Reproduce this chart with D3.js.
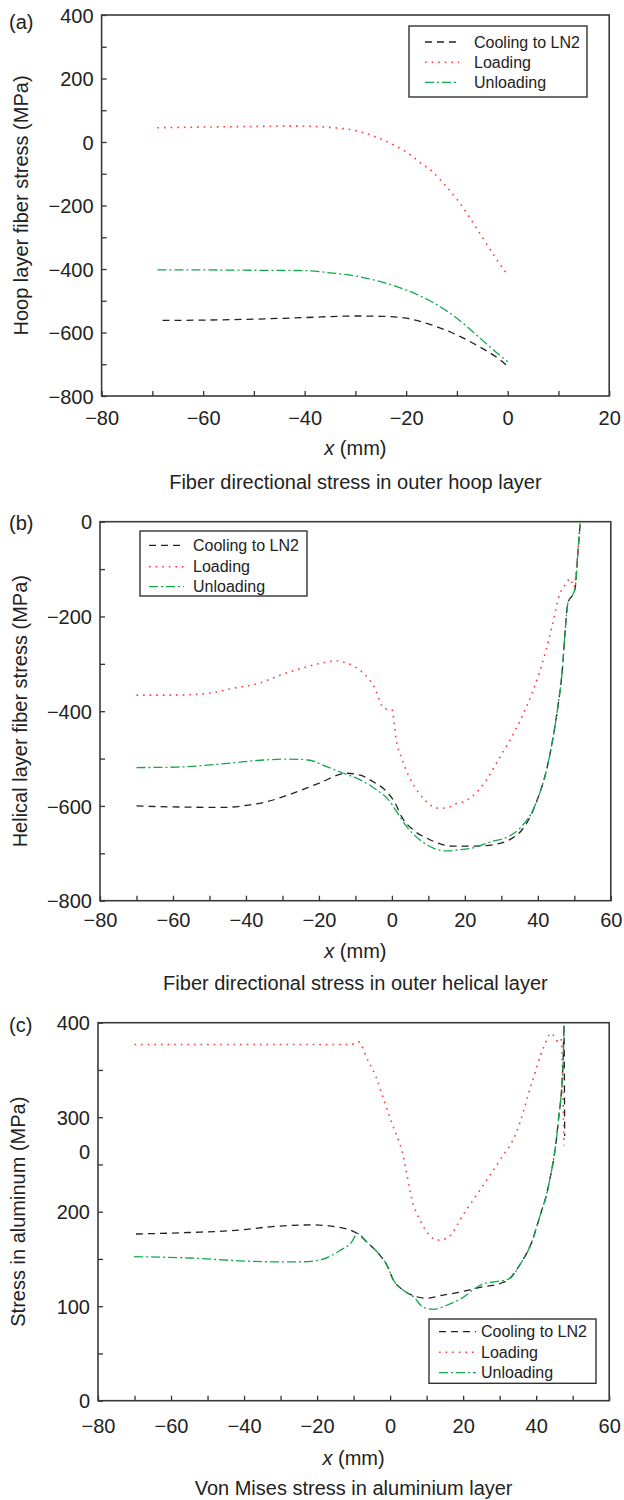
<!DOCTYPE html>
<html>
<head>
<meta charset="utf-8">
<script src="https://cdn.jsdelivr.net/npm/d3@7"></script>
<style>
  body { margin: 0; background: #fff; }
  svg text { font-family: "Liberation Sans", Arial, Helvetica, sans-serif; fill: #222; }
</style>
</head>
<body>
<svg id="fig" width="624" height="1500"></svg>
<script>

// ---------- data ----------
// (a) hoop layer
var aCoolX = [-68, -60, -50, -40, -30, -25, -20, -15, -10, -5, -2, 0];
var aCoolY = [-562, -561, -558, -553, -548, -549, -555, -576, -608, -650, -680, -706];
var aLoadX = [-69, -60, -50, -43, -38, -35, -30, -26, -23, -20, -17, -15, -12, -9.6, -7.4, -5.4, -2.5, 0];
var aLoadY = [45, 47, 49, 50, 49, 46, 36, 16, -5, -31, -68, -91, -142, -189, -240, -290, -362, -420];
var aUnlX = [-69, -60, -50, -40, -35, -30, -25, -20, -15, -10, -5, -2, 0];
var aUnlY = [-403, -403, -404, -405, -412, -422, -440, -466, -503, -555, -624, -666, -692];

// (b) helical layer
var bCoolX = [-70, -60, -46, -40, -34.3, -27, -19.7, -12.4, -8.7, -5.1, -1.4, 0.9, 2.7, 5.9, 9.6, 13.2, 16.9, 22, 27.5, 33, 36.3, 39.5, 42.8, 45.5, 46.5, 48.3, 49.5, 50.2, 51, 51.6];
var bCoolY = [-600, -602, -603, -599, -591, -573, -551, -531, -535, -549, -570, -594, -623, -651, -668, -680, -685, -685, -682, -668, -644, -594, -510, -390, -330, -170, -155, -141, -64, -3];
var bLoadX = [-70, -60, -50, -43.8, -36, -30.7, -24.1, -19, -15.3, -11, -8.2, -4.9, -2.2, 0, 1.3, 2.7, 4.5, 6.8, 8.6, 10.9, 13.2, 15.5, 17.3, 19.8, 24.2, 29.7, 35.2, 38.4, 42.3, 43.9, 46.1, 47.8, 48.8, 49.9, 51, 51.6];
var bLoadY = [-366, -366, -362, -352, -340, -324, -308, -298, -294, -303, -317, -348, -394, -397, -466, -499, -535, -566, -584, -600, -605, -603, -596, -591, -563, -496, -419, -362, -270, -221, -151, -130, -120, -138, -60, -3];
var bUnlX = [-70, -59, -45, -35, -28.5, -23, -17.9, -13.3, -8.7, -4.2, -0.5, 1.3, 4.1, 7.7, 11.4, 15, 17.8, 21.9, 27.4, 31.8, 35.1, 39.5, 42.8, 45.5, 46.5, 48.3, 49.5, 50.2, 51, 51.6];
var bUnlY = [-519, -518, -510, -503, -501, -503, -517, -531, -545, -566, -591, -612, -644, -672, -689, -695, -693, -689, -675, -665, -647, -594, -510, -390, -330, -170, -155, -141, -64, -3];

// (c) aluminium
var cCoolX = [-69.6, -55, -41.1, -33, -21.4, -14.8, -9, -6.4, -2.8, -0.9, 0.9, 3.6, 7.3, 10, 14.6, 19.2, 24.6, 30.1, 32.8, 35.5, 38.8, 41, 43.3, 46, 47.4, 47.6, 47.8];
var cCoolY = [176.4, 178, 180.6, 184, 186, 184, 177, 168, 154, 143.6, 127.7, 117, 110, 108.4, 111.8, 115, 120, 124, 129.5, 143.6, 168, 195, 226, 293.5, 360.5, 397.6, 280];
var cLoadX = [-70, -60, -40, -20, -10.5, -8.8, -6.1, -3.9, -1.7, 0.5, 3.2, 6.4, 8.2, 10.9, 12.8, 15.5, 20.2, 24.6, 30.1, 34.5, 38.8, 42.1, 44.1, 46, 46.8, 47.6];
var cLoadY = [377, 377, 377, 377, 377, 380, 360.5, 343, 318, 293.5, 265, 207, 191, 174.6, 170, 171.8, 198, 223, 254.7, 283, 336, 374.6, 388.8, 380, 383, 270];
var cUnlX = [-70.1, -55, -41.1, -33, -24, -19.2, -13.7, -10.5, -9, -6.4, -2.8, -0.9, 0.9, 3.6, 6.4, 9.1, 11.8, 15.5, 19.1, 25.7, 29, 32.8, 35.5, 38.8, 41, 43.3, 46, 47.4, 47.6];
var cUnlY = [152.4, 151, 148, 147, 147, 149, 159, 168, 177, 168, 154, 143.6, 127.7, 117, 110, 98.8, 96.7, 101, 107.3, 124, 126, 129.5, 143.6, 168, 195, 226, 293.5, 360.5, 397.6];

var seriesNames = ["Cooling to LN2", "Loading", "Unloading"];
var seriesColors = ["#222222", "#ff3b3b", "#12a84a"];
var seriesDash = ["7,5", "1.6,5", "9,3,2,3"];

// ---------- helpers ----------
var svg = d3.select("#fig");

function zip(xs, ys) {
  return xs.map(function(x, i) { return [x, ys[i]]; });
}

function drawPanel(p) {
  var x = d3.scaleLinear().domain(p.xDomain).range([p.left, p.right]);
  var y = d3.scaleLinear().domain(p.yDomain).range([p.bottom, p.top]);
  var g = svg.append("g");

  var xTicks = d3.range(p.xDomain[0], p.xDomain[1] + 1, 10);
  var yTicks = d3.range(p.yDomain[0], p.yDomain[1] + 1, p.yMinor);

  g.append("g")
    .attr("transform", "translate(0," + p.bottom + ")")
    .call(d3.axisBottom(x).tickValues(xTicks).tickSizeInner(-5).tickSizeOuter(0).tickPadding(p.xPad)
      .tickFormat(function(d) { return d % 20 === 0 ? d3.format("")(d) : ""; }))
    .call(function(a) {
      a.select(".domain").remove();
      a.selectAll("line").attr("stroke", "#333").attr("stroke-width", 1.3);
      a.selectAll("text").attr("font-size", 20).attr("fill", "#222");
    });

  g.append("g")
    .attr("transform", "translate(" + p.left + ",0)")
    .call(d3.axisLeft(y).tickValues(yTicks).tickSizeInner(-5).tickSizeOuter(0).tickPadding(8)
      .tickFormat(function(d) { return d % p.yMajor === 0 ? d3.format("")(d) : ""; }))
    .call(function(a) {
      a.select(".domain").remove();
      a.selectAll("line").attr("stroke", "#333").attr("stroke-width", 1.3);
      a.selectAll("text").attr("font-size", 20).attr("fill", "#222").attr("dy", "0.36em");
    });

  // stray labels printed in the original
  (p.extraLabels || []).forEach(function(l) {
    g.append("text")
      .attr("x", p.left - 8).attr("y", y(l.v)).attr("dy", "0.36em")
      .attr("text-anchor", "end").attr("font-size", 20).text(l.t);
  });

  // frame
  g.append("rect")
    .attr("x", p.left).attr("y", p.top)
    .attr("width", p.right - p.left).attr("height", p.bottom - p.top)
    .attr("fill", "none").attr("stroke", "#3a3a3a").attr("stroke-width", 1.6);

  var line = d3.line()
    .x(function(d) { return x(d[0]); })
    .y(function(d) { return y(d[1]); })
    .curve(d3.curveMonotoneX);

  p.series.forEach(function(s, i) {
    g.append("path")
      .datum(s)
      .attr("d", line)
      .attr("fill", "none")
      .attr("stroke", seriesColors[i])
      .attr("stroke-width", i === 1 ? 1.6 : 1.3)
      .attr("stroke-dasharray", seriesDash[i]);
  });

  // legend
  var L = p.legend;
  g.append("rect")
    .attr("x", L.x0).attr("y", L.y0)
    .attr("width", L.x1 - L.x0).attr("height", L.y1 - L.y0)
    .attr("fill", "#fff").attr("stroke", "#333").attr("stroke-width", 1.4);
  seriesNames.forEach(function(name, i) {
    var ry = L.rows[i];
    g.append("line")
      .attr("x1", L.s0).attr("x2", L.s1).attr("y1", ry).attr("y2", ry)
      .attr("stroke", seriesColors[i])
      .attr("stroke-width", i === 1 ? 1.6 : 1.3)
      .attr("stroke-dasharray", seriesDash[i]);
    g.append("text")
      .attr("x", L.tx).attr("y", ry).attr("dy", "0.35em")
      .attr("font-size", 16).text(name);
  });

  // labels
  var cx = (p.left + p.right) / 2;
  g.append("text")
    .attr("transform", "translate(" + p.yLabelX + "," + ((p.top + p.bottom) / 2) + ") rotate(-90)")
    .attr("text-anchor", "middle").attr("dy", "0.35em")
    .attr("font-size", 20).text(p.yLabel);

  var xl = g.append("text")
    .attr("x", cx).attr("y", p.xLabelY).attr("dy", "0.35em")
    .attr("text-anchor", "middle").attr("font-size", 20);
  xl.append("tspan").attr("font-style", "italic").text("x");
  xl.append("tspan").text(" (mm)");

  g.append("text")
    .attr("x", cx).attr("y", p.titleY).attr("dy", "0.35em")
    .attr("text-anchor", "middle").attr("font-size", 20).text(p.title);

  g.append("text")
    .attr("x", 9).attr("y", p.tagY).attr("dy", "0.35em")
    .attr("font-size", 20).text(p.tag);
}

drawPanel({
  tag: "(a)", tagY: 22,
  xDomain: [-80, 20], yDomain: [-800, 400], yMinor: 100, yMajor: 200,
  left: 101.6, right: 609.2, top: 15, bottom: 396, xPad: 15,
  yLabel: "Hoop layer fiber stress (MPa)", yLabelX: 21,
  xLabelY: 448, titleY: 482,
  title: "Fiber directional stress in outer hoop layer",
  series: [zip(aCoolX, aCoolY), zip(aLoadX, aLoadY), zip(aUnlX, aUnlY)],
  legend: { x0: 409, x1: 587, y0: 26, y1: 97, s0: 425, s1: 459, tx: 474, rows: [42, 62.3, 82.3] }
});

drawPanel({
  tag: "(b)", tagY: 523,
  xDomain: [-80, 60], yDomain: [-800, 0], yMinor: 100, yMajor: 200,
  left: 100, right: 610.8, top: 521.7, bottom: 900.7, xPad: 12,
  yLabel: "Helical layer fiber stress (MPa)", yLabelX: 20,
  xLabelY: 951, titleY: 983,
  title: "Fiber directional stress in outer helical layer",
  series: [zip(bCoolX, bCoolY), zip(bLoadX, bLoadY), zip(bUnlX, bUnlY)],
  legend: { x0: 140, x1: 307, y0: 531, y1: 596, s0: 149, s1: 184, tx: 193, rows: [545.3, 566.7, 586.7] }
});

drawPanel({
  tag: "(c)", tagY: 1025,
  xDomain: [-80, 60], yDomain: [0, 400], yMinor: 50, yMajor: 100,
  left: 98, right: 609.2, top: 1022.7, bottom: 1400.7, xPad: 18,
  yLabel: "Stress in aluminum (MPa)", yLabelX: 18,
  xLabelY: 1458, titleY: 1488,
  title: "Von Mises stress in aluminium layer",
  extraLabels: [{ v: 263.5, t: "0" }],
  series: [zip(cCoolX, cCoolY), zip(cLoadX, cLoadY), zip(cUnlX, cUnlY)],
  legend: { x0: 429, x1: 596, y0: 1319, y1: 1383.3, s0: 439, s1: 476, tx: 481, rows: [1331.7, 1352.3, 1372.7] }
});
</script>
</body>
</html>
